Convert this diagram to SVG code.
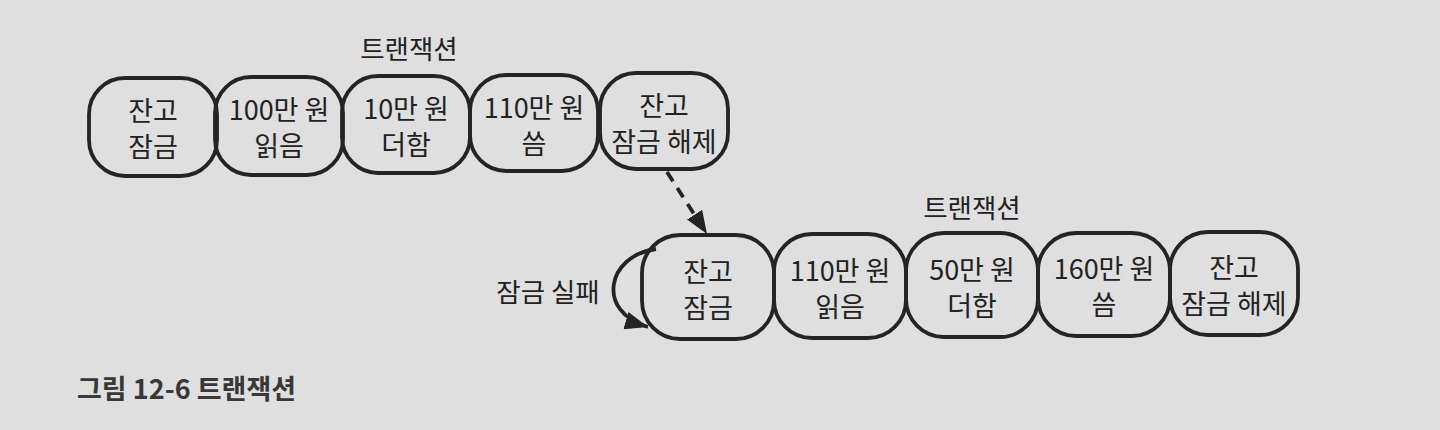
<svg xmlns="http://www.w3.org/2000/svg" width="1440" height="430" viewBox="0 0 1440 430">
  <style>
    .box { fill: none; stroke: #242424; stroke-width: 3.8; }
    .t { font-family: "Noto Sans CJK KR", "Noto Sans", sans-serif; font-size: 27px; fill: #222222; text-anchor: middle; }
    .lbl { font-family: "Noto Sans CJK KR", "Noto Sans", sans-serif; font-size: 26.5px; fill: #222222; text-anchor: middle; }
    .cap { font-family: "Noto Sans CJK KR", "Noto Sans", sans-serif; font-size: 27px; font-weight: bold; fill: #383838; }
    .conn { fill: none; stroke: #242424; stroke-width: 3.8; }
  </style>
  <defs>
    <marker id="head" markerUnits="userSpaceOnUse" markerWidth="26" markerHeight="20" refX="23" refY="9" orient="auto">
      <path d="M0,0 L23,9 L0,18 z" fill="#242424"/>
    </marker>
  </defs>
  <rect x="0" y="0" width="1440" height="430" fill="#dfdfdf"/>

  <text class="lbl" x="409" y="59">트랜잭션</text>
  <text class="lbl" x="972" y="218">트랜잭션</text>
  <text class="lbl" x="548" y="302">잠금 실패</text>
  <text class="cap" x="77" y="399">그림 12-6 트랜잭션</text>

  <g id="t1-lock">
    <rect class="box" x="89" y="78" width="128" height="98" rx="36"/>
    <text class="t" x="153" y="121">잔고</text>
    <text class="t" x="153" y="157">잠금</text>
  </g>
  <g id="t1-read">
    <rect class="box" x="215" y="77" width="128" height="98" rx="36"/>
    <text class="t" x="279" y="120">100만 원</text>
    <text class="t" x="279" y="156">읽음</text>
  </g>
  <g id="t1-add">
    <rect class="box" x="342" y="76" width="128" height="97" rx="36"/>
    <text class="t" x="406" y="119">10만 원</text>
    <text class="t" x="406" y="155">더함</text>
  </g>
  <g id="t1-write">
    <rect class="box" x="470" y="75" width="128" height="96" rx="36"/>
    <text class="t" x="534" y="118">110만 원</text>
    <text class="t" x="534" y="154">씀</text>
  </g>
  <g id="t1-unlock">
    <rect class="box" x="600" y="73" width="128" height="96" rx="36"/>
    <text class="t" x="664" y="116">잔고</text>
    <text class="t" x="664" y="152">잠금 해제</text>
  </g>

  <g id="t2-lock">
    <rect class="box" x="642" y="235" width="132" height="104" rx="38"/>
    <text class="t" x="708" y="282">잔고</text>
    <text class="t" x="708" y="318">잠금</text>
  </g>
  <g id="t2-read">
    <rect class="box" x="774" y="234" width="132" height="104" rx="38"/>
    <text class="t" x="840" y="281">110만 원</text>
    <text class="t" x="840" y="317">읽음</text>
  </g>
  <g id="t2-add">
    <rect class="box" x="906" y="233" width="132" height="104" rx="38"/>
    <text class="t" x="972" y="280">50만 원</text>
    <text class="t" x="972" y="316">더함</text>
  </g>
  <g id="t2-write">
    <rect class="box" x="1038" y="233" width="132" height="103" rx="38"/>
    <text class="t" x="1104" y="279">160만 원</text>
    <text class="t" x="1104" y="315">씀</text>
  </g>
  <g id="t2-unlock">
    <rect class="box" x="1170" y="232" width="128" height="103" rx="38"/>
    <text class="t" x="1234" y="278">잔고</text>
    <text class="t" x="1234" y="314">잠금 해제</text>
  </g>

  <g id="connectors">
    <path class="conn" d="M667,172 L707,234" stroke-dasharray="11,8" marker-end="url(#head)"/>
    <path class="conn" d="M656,249 C606,256 596,312 648,327" marker-end="url(#head)"/>
  </g>
</svg>
